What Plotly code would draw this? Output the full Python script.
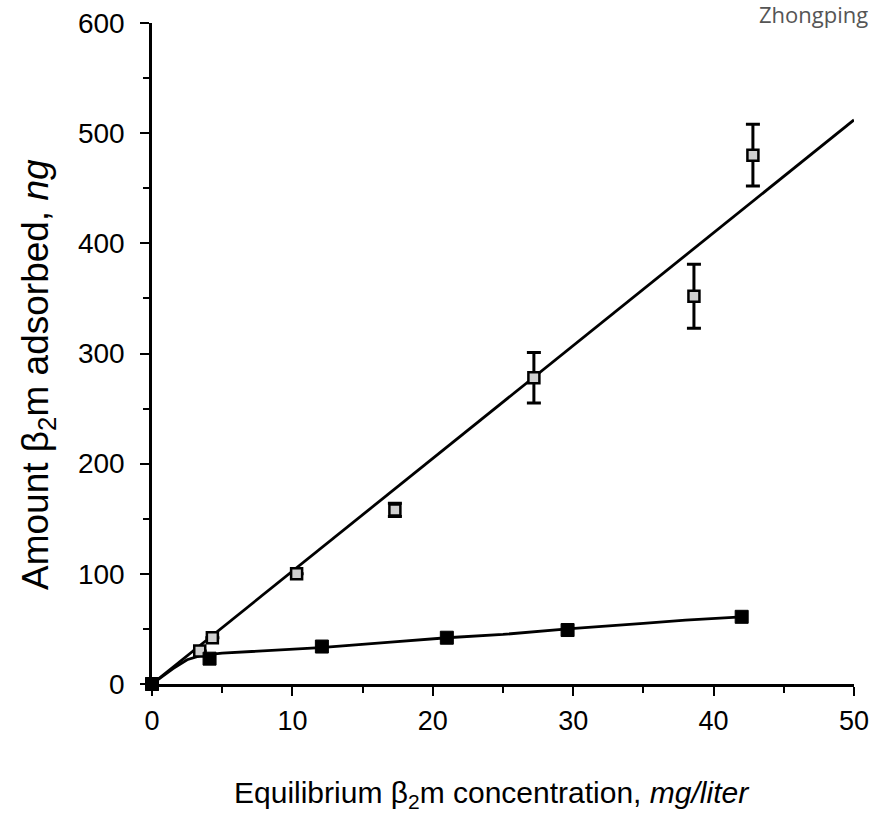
import plotly.graph_objects as go

# Open squares series (with error bars)
open_x = [0.0, 3.4, 4.3, 10.3, 17.3, 27.2, 38.6, 42.8]
open_y = [0, 30, 42, 100, 158, 278, 352, 480]
open_err = [0, 0, 0, 0, 6, 23, 29, 28]

# Filled squares series
filled_x = [0.0, 4.1, 12.1, 21.0, 29.6, 42.0]
filled_y = [0, 23, 34, 42, 49, 61]

# Fitted line for open squares
open_fit_x = [0, 50]
open_fit_y = [0, 512]

# Fitted curve for filled squares
filled_fit_x = [0, 1.5, 2.5, 3.5, 5, 8, 12, 17, 21, 25, 29.6, 35, 38, 42]
filled_fit_y = [0, 14, 22, 26, 28, 30, 33, 38, 42, 45, 50, 55, 58, 61]

x_ticks = [0, 10, 20, 30, 40, 50]
y_ticks = [0, 100, 200, 300, 400, 500, 600]

x_title = "Equilibrium β<sub>2</sub>m concentration, <i>mg/liter</i>"
y_title = "Amount β<sub>2</sub>m adsorbed, <i>ng</i>"

FONT = "Liberation Sans, Arial, sans-serif"

# plot area in pixels (for placing titles)
L, R, T, B = 152, 854, 23, 684


def px_x(p):
    return (p - L) / (R - L)


def px_y(p):
    return (B - p) / (B - T)


fig = go.Figure()
fig.add_trace(go.Scatter(x=open_fit_x, y=open_fit_y, mode="lines",
                         line=dict(color="black", width=2.8), cliponaxis=False,
                         showlegend=False, hoverinfo="skip"))
fig.add_trace(go.Scatter(x=filled_fit_x, y=filled_fit_y, mode="lines",
                         line=dict(color="black", width=2.8), cliponaxis=False,
                         showlegend=False, hoverinfo="skip"))
fig.add_trace(go.Scatter(x=open_x, y=open_y, mode="markers",
                         marker=dict(symbol="square", size=11, color="#d0d0d0",
                                     line=dict(color="black", width=2.5)),
                         error_y=dict(type="data", array=open_err, color="black",
                                      thickness=3, width=7),
                         cliponaxis=False, showlegend=False))
fig.add_trace(go.Scatter(x=filled_x, y=filled_y, mode="markers",
                         marker=dict(symbol="square", size=13, color="black",
                                     line=dict(color="black", width=1)),
                         cliponaxis=False, showlegend=False))

fig.update_xaxes(range=[0, 50], tickvals=x_ticks, ticks="outside", ticklen=9,
                 tickwidth=2, tickcolor="black", showline=True, linecolor="black",
                 linewidth=2.5, showgrid=False, zeroline=False, automargin=False,
                 ticklabelstandoff=2,
                 minor=dict(dtick=5, ticks="outside", ticklen=6, tickwidth=2, tickcolor="black"),
                 tickfont=dict(family=FONT, size=27, color="black"))
fig.update_yaxes(range=[0, 600], tickvals=y_ticks, ticks="outside", ticklen=9,
                 tickwidth=2, tickcolor="black", showline=True, linecolor="black",
                 linewidth=2.5, showgrid=False, zeroline=False, automargin=False,
                 ticklabelstandoff=10,
                 minor=dict(dtick=50, ticks="outside", ticklen=6, tickwidth=2, tickcolor="black"),
                 tickfont=dict(family=FONT, size=28, color="black"))

fig.add_annotation(text=x_title, xref="paper", yref="paper", x=px_x(491), y=px_y(794),
                   xanchor="center", yanchor="middle", showarrow=False,
                   font=dict(family=FONT, size=30, color="black"))
fig.add_annotation(text=y_title, xref="paper", yref="paper", x=px_x(38), y=px_y(375),
                   xanchor="center", yanchor="middle", showarrow=False, textangle=-90,
                   font=dict(family=FONT, size=37, color="black"))

fig.add_annotation(text="Zhongping", xref="paper", yref="paper", x=px_x(757), y=1.0,
                   xanchor="left", yanchor="bottom", yshift=-8, showarrow=False,
                   font=dict(family="Open Sans, sans-serif", size=22, color="#555"))

fig.update_layout(width=876, height=817, margin=dict(l=L, r=876 - R, t=T, b=817 - B),
                  plot_bgcolor="white", paper_bgcolor="white")

fig.write_html("out.html")
